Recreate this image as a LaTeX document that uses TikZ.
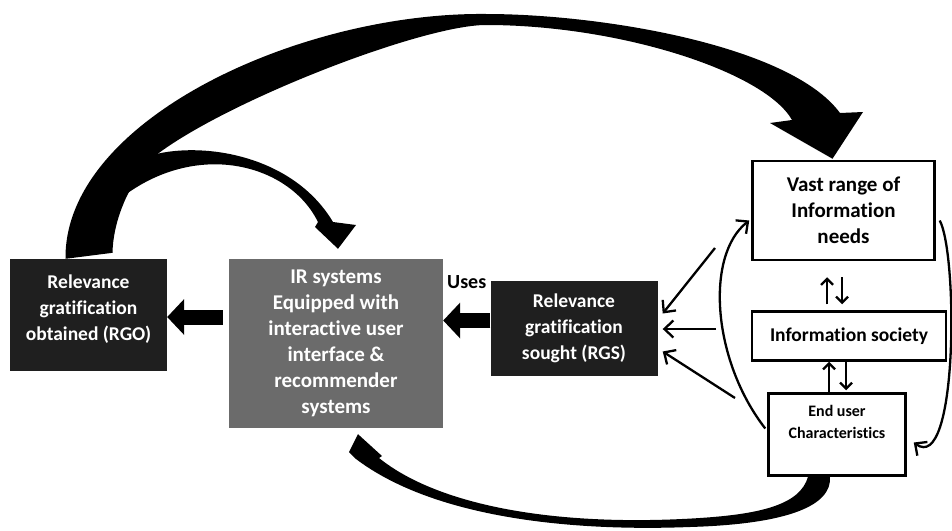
\documentclass[tikz,border=0pt]{standalone}
\usepackage{fontspec}
\setmainfont[Ligatures=NoCommon]{Carlito}
\usetikzlibrary{arrows.meta, calc}
\definecolor{boxdark}{HTML}{1F1F1F}
\definecolor{boxgrey}{HTML}{6B6B6B}

\begin{document}
\begin{tikzpicture}[x=1pt, y=-1pt,
	darkbox/.style={fill=boxdark, text=white, align=center, inner sep=0pt,
		font=\bfseries\fontsize{19.5}{26}\selectfont},
	whitebox/.style={draw, line width=2.5pt, fill=white, align=center, inner sep=0pt,
		font=\bfseries\fontsize{21}{26}\selectfont},
	blockarrow/.style={line width=15pt, -{Triangle[length=17pt,width=35pt]}},
	thinarrow/.style={line width=2.3pt, -{Straight Barb[length=9pt,width=17pt]}},
	updown/.style={line width=2.3pt, -{Straight Barb[length=6pt,width=12pt]}}]
	\useasboundingbox (0,0) rectangle (952,530);

	% boxes
	\node[darkbox, minimum width=157pt, minimum height=112pt] (rgo) at (88.5,315)
		{\raisebox{6pt}[\height][\depth]{\begin{tabular}{@{}c@{}}Relevance\\gratification\\obtained (RGO)\end{tabular}}};
	\node[darkbox, fill=boxgrey, minimum width=214pt, minimum height=169pt,
		font=\bfseries\fontsize{21}{26}\selectfont] (ir) at (336,343.5)
		{IR systems\\Equipped with\\interactive user\\interface \&\\recommender\\systems};
	\node[darkbox, minimum width=167pt, minimum height=95pt] (rgs) at (574,328.5)
		{Relevance\\gratification\\sought (RGS)};
	\node[whitebox, minimum width=182pt, minimum height=99pt] (vast) at (843.5,210.5)
		{Vast range of\\Information\\needs};
	\node[whitebox, minimum width=194pt, minimum height=49pt,
		font=\bfseries\fontsize{19.5}{24}\selectfont] (soc) at (849,336) {Information society};
	\node[whitebox, minimum width=137pt, minimum height=82pt,
		font=\bfseries\fontsize{16}{22}\selectfont] (end) at (837,434.5)
		{\raisebox{11pt}[\height][\depth]{\begin{tabular}{@{}c@{}}End user\\Characteristics\end{tabular}}};
	\node[anchor=base west, inner sep=0pt, font=\bfseries\fontsize{20}{24}\selectfont] (uses) at (447,288) {Uses};

	% block arrows
	\draw[blockarrow] ([yshift=8pt]rgs.west) -- ([yshift=8pt]rgs.west -| ir.east);
	\draw[blockarrow] ($(ir.west |- rgo.east)+(-6,2)$) -- ($(rgo.east)+(0,2)$);

	% thin arrows into rgs
	\coordinate (n1) at (715,248);
	\coordinate (n2) at (716,329);
	\coordinate (n3) at (735,398);
	\foreach \from/\dy in {n1/-15, n2/0.5, n3/23}
	\draw[thinarrow] (\from) -- ($(rgs.east)+(5,\dy)$);

	% loops round the right column
	\draw[thinarrow] ($(end.west)+(-2,-6)$) .. controls (712,360) and (705,255) .. ($(vast.west)+(-2,10)$);
	\draw[thinarrow] ($(vast.east)+(4,10)$) .. controls (958,255) and (958,475) .. ($(end.east)+(7,8)$);

	% up and down pairs
	\draw[updown] ($(soc.north)+(-22,-6)$) -- ($(vast.south)+(-16.5,16)$);
	\draw[updown] ($(vast.south)+(-1.5,16)$) -- ($(soc.north)+(-7,-6)$);
	\draw[updown] ($(end.north)+(-8,0)$) -- ($(soc.south)+(-20,0)$);
	\draw[updown] ($(soc.south)+(-3,0)$) -- ($(end.north)+(9,-2)$);

	% big arc over the top
	\fill ($(rgo.north)+(-23,0)$) .. controls (64,120) and (300,12) .. (486,14)
		.. controls (600,14) and (790,45) .. (840,113)
		-- (863,112) -- ($(vast.north)+(-11,-1)$) -- (770,123) -- (792,120)
		.. controls (765,72) and (620,25) .. (486,25)
		.. controls (420,25) and (214,106) .. (150,160)
		.. controls (125,190) and (113,225) .. ($(rgo.north)+(24,-6)$) -- cycle;
	%branch down to ir
	\fill (143,158) .. controls (190,140) and (290,150) .. (333,222)
		-- (356,225) -- ($(ir.north)+(2,-10)$) -- (315,227) -- (318,222)
		.. controls (290,165) and (200,140) .. (125,195) -- cycle;
	%bottom arc back to ir
	\fill ($(end.south)+(-29,0)$) .. controls (800,505) and (760,514) .. (700,518)
		.. controls (560,527) and (440,507) .. (379,458)
		-- (382,456) -- ($(ir.south)+(22,6)$) -- (349,452) -- (356,459)
		.. controls (430,515) and (560,532) .. (690,527)
		.. controls (790,524) and (832,505) .. ($(end.south)+(-7,0)$) -- cycle;
\end{tikzpicture}
\end{document}
